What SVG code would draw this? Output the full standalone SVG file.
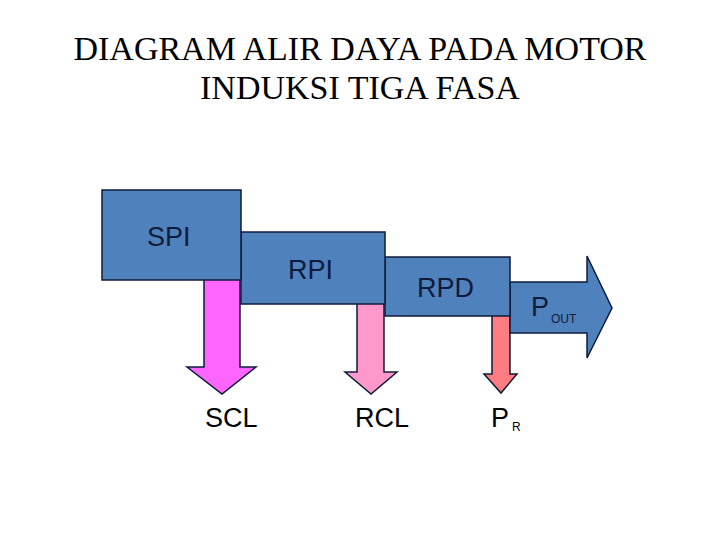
<svg xmlns="http://www.w3.org/2000/svg" width="720" height="540" viewBox="0 0 720 540">
<style>
.title{font-family:"Liberation Serif","Times New Roman",serif;font-size:34px;fill:#000;text-anchor:middle}
.box{fill:#4F81BD;stroke:#0F1B3A;stroke-width:1.5}
.arr{stroke:#0F1B3A;stroke-width:1.5;stroke-linejoin:miter}
.lbl{font-family:"Liberation Sans",Arial,sans-serif;font-size:27px;fill:#000}
.in{fill:#0F1B3A}
.sub{font-family:"Liberation Sans",Arial,sans-serif;font-size:12px}
</style>
<rect width="720" height="540" fill="#fff"/>
<g id="title">
<text class="title" x="360" y="60">DIAGRAM ALIR DAYA PADA MOTOR</text>
<text class="title" x="360" y="99">INDUKSI TIGA FASA</text>
</g>
<g id="connectors">
<polygon id="scl-arrow" class="arr" fill="#FF66FF" points="204,270 240,270 240,367 256,367 222,394 187,367 204,367"/>
<polygon id="rcl-arrow" class="arr" fill="#FF99CC" points="357,295 384,295 384,372 397,372 371,394 345,372 357,372"/>
<polygon id="pr-arrow" class="arr" fill="#FF7C80" points="492,305 510,305 510,374 517,374 501,393 484,374 492,374"/>
<polygon id="pout-arrow" class="arr" fill="#4F81BD" points="510,282 587,282 587,256 612,308 587,358 587,333 510,333"/>
</g>
<g id="rpd">
<rect class="box" x="385" y="257" width="125" height="59"/>
<text class="lbl in" x="417" y="297">RPD</text>
</g>
<g id="rpi">
<rect class="box" x="241" y="232" width="144" height="72"/>
<text class="lbl in" x="288" y="279">RPI</text>
</g>
<g id="spi">
<rect class="box" x="102" y="190" width="139" height="90"/>
<text class="lbl in" x="147" y="246">SPI</text>
</g>
<g id="pout-label">
<text class="lbl in" x="531" y="316">P<tspan class="sub" x="551" y="323">OUT</tspan></text>
</g>
<g id="labels">
<text class="lbl" x="205" y="427">SCL</text>
<text class="lbl" x="355" y="427">RCL</text>
<text class="lbl" x="491" y="427">P<tspan class="sub" x="512" y="431">R</tspan></text>
</g>
</svg>
